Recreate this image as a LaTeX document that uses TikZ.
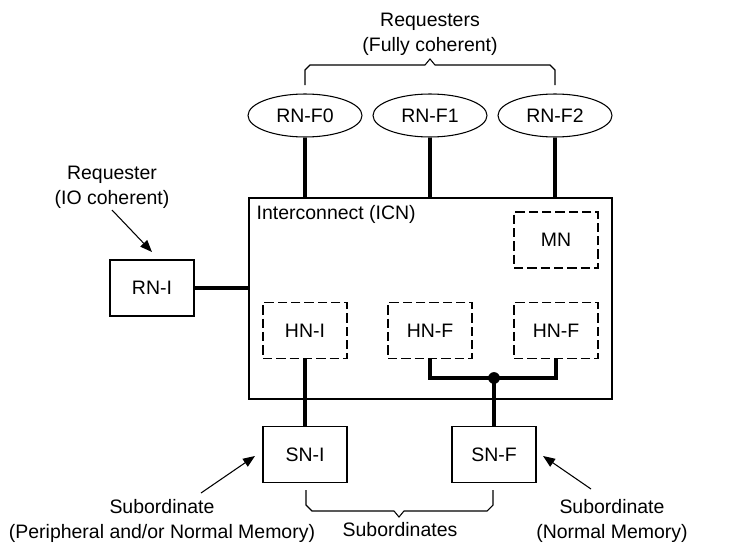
\documentclass[tikz,border=0pt]{standalone}
\usepackage{fontspec}
\setmainfont{Liberation Sans}
\usetikzlibrary{arrows.meta,shapes.geometric}
\begin{document}
\begin{tikzpicture}[x=0.75pt,y=-0.75pt,
  every node/.style={font=\fontsize{14.6}{18.75}\selectfont, align=center},
  box/.style={draw, line width=0.8pt, minimum width=63pt, minimum height=42pt, inner sep=0pt},
  dbox/.style={box, dash pattern=on 7pt off 3pt},
  ell/.style={draw, line width=0.8pt, ellipse, minimum width=85.5pt, minimum height=32.25pt, inner sep=0pt},
  link/.style={line width=2.5pt},
  thin/.style={line width=0.8pt},
  pointer/.style={line width=0.8pt, -{Triangle[length=9pt,width=7pt]}}]
\useasboundingbox (0,0) rectangle (729,553);
% top
\node (req) at (430,34) {Requesters\\(Fully coherent)};
\node[ell] (rnf0) at (305,115.5) {RN-F0};
\node[ell] (rnf1) at (430,115.5) {RN-F1};
\node[ell] (rnf2) at (555,115.5) {RN-F2};
\draw[thin] (305,85) -- (305,70) -- (310,65) -- (425,65) -- (430,59) -- (435,65) -- (550,65) -- (555,70) -- (555,85);
% interconnect
\node[draw, line width=0.8pt, minimum width=272.25pt, minimum height=150.75pt, inner sep=0pt] (icn) at (430.5,298.5) {};
\node[anchor=west] (icnlabel) at (252,214) {Interconnect (ICN)};
\node[dbox] (mn) at (556,240) {MN};
\node[dbox] (hni) at (305,330.5) {HN-I};
\node[dbox] (hnf1) at (430,330.5) {HN-F};
\node[dbox] (hnf2) at (556,330.5) {HN-F};
% requester IO
\node[box] (rni) at (152,288) {RN-I};
\node (reqio) at (112,187.5) {Requester\\(IO coherent)};
\coordinate (rnitip) at (152,252);
% subordinates
\node[box] (sni) at (305,454.5) {SN-I};
\node[box] (snf) at (494,454.5) {SN-F};
\node (subi) at (162,521) {Subordinate\\(Peripheral and/or Normal Memory)};
\node (subf) at (612,521) {Subordinate\\(Normal Memory)};
\node (subs) at (400,530) {Subordinates};
\coordinate (snitip) at (255,456);
\coordinate (snftip) at (543,456);
\draw[thin] (306,490) -- (306,505) -- (312,511) -- (394,511) -- (399,517) -- (404,511) -- (487,511) -- (493,505) -- (493,490);
% links
\draw[link] (rnf0.south) -- (rnf0.south |- icn.north);
\draw[link] (rnf1.south) -- (rnf1.south |- icn.north);
\draw[link] (rnf2.south) -- (rnf2.south |- icn.north);
\draw[link] (rni.east) -- (rni.east -| icn.west);
\draw[link] (hni.south) -- (sni.north);
\coordinate (dot) at (494,378);
\draw[link] (hnf1.south) |- (dot) -| (hnf2.south);
\draw[link] (dot) -- (snf.north);
\fill (dot) circle (4.4pt);
% pointers
\draw[pointer] (112,210) -- (rnitip);
\draw[pointer] (201,493) -- (snitip);
\draw[pointer] (591,489) -- (snftip);
\end{tikzpicture}
\end{document}
